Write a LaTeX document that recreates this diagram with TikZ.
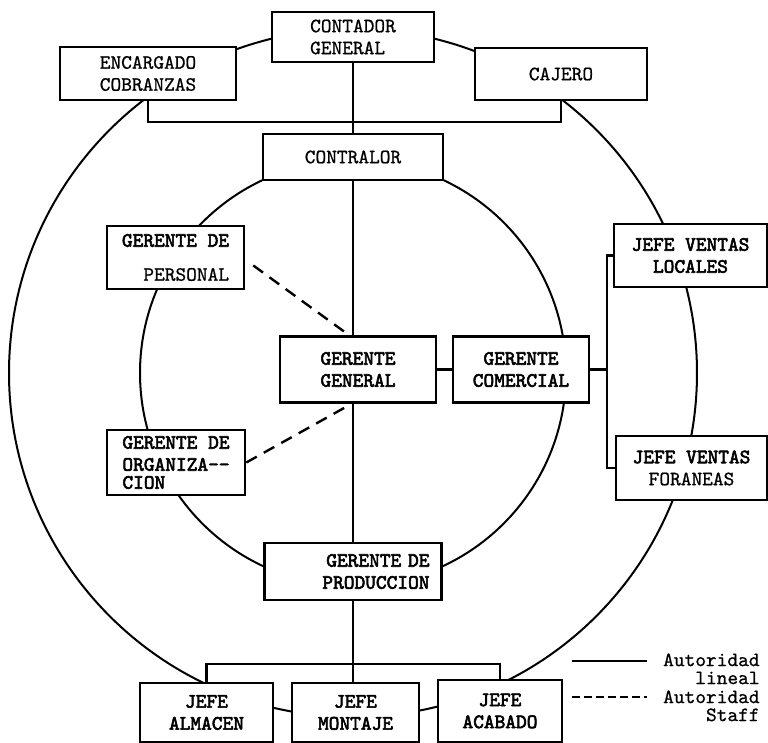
\documentclass[tikz,border=0pt]{standalone}
\usepackage{fontspec}
\usetikzlibrary{calc}
\newfontfamily\tw{Latin Modern Mono}[FakeBold=0.8]
\newfontfamily\twb{Latin Modern Mono}[FakeBold=2.8]

\begin{document}
\begin{tikzpicture}[
    x=0.5pt, y=-0.5pt,
    org/.style={draw, fill=white, line width=1.3pt, inner sep=2pt, align=center,
      font=\tw\fontsize{10.2}{11}\selectfont},
    orgb/.style={org, font=\twb\fontsize{10.2}{11}\selectfont},
    link/.style={line width=1.2pt},
    stafflink/.style={line width=1.2pt, dash pattern=on 6pt off 4pt},
    ring/.style={line width=1pt},
    legend/.style={inner sep=0pt, align=right, font=\tw\fontsize{10.2}{9}\selectfont}]
  \useasboundingbox (0,0) rectangle (768,743);
  % the two rings behind the boxes
  \draw[ring] (353,373) circle[radius=172pt];
  \draw[ring] (353,373) circle[radius=106.5pt];
  % top: contador
  \node[org, align=left, minimum width=81pt, minimum height=25pt] (contador) at (353,37) {CONTADOR\\GENERAL};
  \node[org, minimum width=88pt, minimum height=26.5pt] (cobranzas) at (148,73.5) {ENCARGADO\\COBRANZAS};
  \node[org, minimum width=86pt, minimum height=26pt] (cajero) at (561,74) {CAJERO};
  \node[org, minimum width=90pt, minimum height=23pt] (contralor) at (353,157) {CONTRALOR};
  % gerentes
  \node[org, align=right, minimum width=68.5pt, minimum height=31.5pt] (personal) at (175.5,257.5)
    {{\twb GERENTE DE}\\[6pt]PERSONAL};
  \node[orgb, align=left, minimum width=69pt, minimum height=32.5pt, inner ysep=1pt] (organizacion) at (176,462.5)
    {GERENTE DE\\ORGANIZA--\\[-2pt]CION};
  \node[orgb, minimum width=78pt, minimum height=33pt] (general) at (358,369.5) {GERENTE\\GENERAL};
  \node[orgb, minimum width=68pt, minimum height=33pt] (comercial) at (521,369.5) {GERENTE\\COMERCIAL};
  \node[orgb, minimum width=76.5pt, minimum height=31.5pt] (locales) at (690.5,255.5) {JEFE VENTAS\\LOCALES};
  \node[org, minimum width=75.5pt, minimum height=32pt] (foraneas) at (691.5,468) {{\twb JEFE VENTAS}\\FORANEAS};
  \node[orgb, align=right, inner xsep=6pt, text width=76.5pt, minimum height=28.5pt] (produccion) at (353,571.5)
    {GERENTE DE\\PRODUCCION};
  % jefes
  \node[orgb, minimum width=66.5pt, minimum height=29.5pt] (almacen) at (206.5,712.5) {JEFE\\ALMACEN};
  \node[orgb, minimum width=63.5pt, minimum height=29.5pt] (montaje) at (355.5,712.5) {JEFE\\MONTAJE};
  \node[orgb, minimum width=62pt, minimum height=31pt] (acabado) at (500,711) {JEFE\\ACABADO};
  % lineal
  \coordinate (topbar) at (353,122);
  \coordinate (brk) at (607,369.5);
  \coordinate (botbar) at (353,664);
  \draw[link] (contador.south) -- (contralor.north);
  \draw[link] (cobranzas.south) |- (topbar) -| (cajero.south);
  \draw[link] (contralor.south) -- (contralor.south |- general.north);
  \draw[link] (contralor.south |- general.south) -- (produccion.north);
  \draw[link] (general.east) -- (comercial.west);
  \draw[link] (comercial.east) -- (brk);
  \draw[link] (locales.west) -| (brk) |- (foraneas.west);
  \draw[link] (produccion.south) -- (produccion.south |- montaje.north);
  \draw[link] (almacen.north) |- (botbar) -| (acabado.north);
  % staff
  \draw[stafflink] ([shift={(8,8)}]personal.east) -- ([shift={(-13,-3)}]general.north);
  \draw[stafflink] (organizacion.east) -- ([shift={(-10,2)}]general.south);
  % leyenda
  \node[legend, anchor=north east] (legA) at (760,653) {Autoridad\\lineal};
  \node[legend, anchor=north east] (legB) at (760,690) {Autoridad\\Staff};
  \coordinate (legAline) at (572,661);
  \coordinate (legBline) at (572,697);
  \draw[link] (legAline) -- ++(75,0);
  \draw[line width=1pt, dash pattern=on 4pt off 2pt] (legBline) -- ++(75,0);
\end{tikzpicture}
\end{document}
